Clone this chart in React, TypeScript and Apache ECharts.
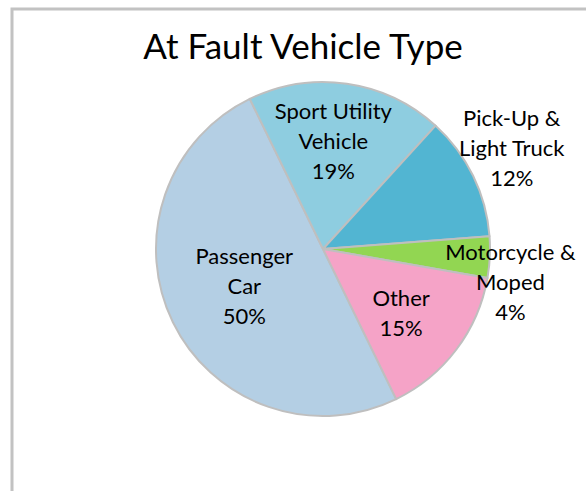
import React, { useEffect, useRef } from "react";
import * as echarts from "echarts";

const titleText = "At Fault Vehicle Type";
const categories = [
  "Passenger\nCar",
  "Sport Utility\nVehicle",
  "Pick-Up &\nLight Truck",
  "Motorcycle &\nMoped",
  "Other",
];
const values = [50, 19, 12, 4, 15];
const colors = ["#B4CFE4", "#8ECDE0", "#52B5D2", "#92D652", "#F5A3C7"];
const labelOffsets: [number, number][] = [
  [-1, -1],
  [-2, -23],
  [111, -64],
  [101, 28],
  [9, 11],
];

export default function App() {
  const ref = useRef<HTMLDivElement>(null);
  useEffect(() => {
    if (!ref.current) return;
    const chart = echarts.init(ref.current, undefined, { renderer: "svg" });
    const font = "Lato, 'Open Sans', sans-serif";
    chart.setOption({
      animation: false,
      backgroundColor: "#ffffff",
      title: {
        text: titleText,
        left: 298,
        top: 22,
        textAlign: "center",
        textStyle: {
          fontFamily: font,
          fontSize: 35,
          fontWeight: "normal",
          color: "#000000",
        },
      },
      graphic: [
        {
          type: "rect",
          shape: { x: 12, y: 9, width: 640, height: 540 },
          style: { fill: "none", stroke: "#C2C2C2", lineWidth: 3 },
          silent: true,
        },
      ],
      series: [
        {
          type: "pie",
          center: [323, 249],
          radius: 167,
          startAngle: 296,
          clockwise: true,
          avoidLabelOverlap: false,
          itemStyle: { borderColor: "#BFBFBF", borderWidth: 2 },
          label: {
            show: true,
            position: "inside",
            fontFamily: font,
            fontSize: 22,
            lineHeight: 30,
            color: "#000000",
            align: "center",
            formatter: (p: any) => `${p.name}\n${p.value}%`,
          },
          labelLine: { show: false },
          emphasis: { disabled: true },
          data: categories.map((name, i) => ({
            name,
            value: values[i],
            itemStyle: { color: colors[i] },
            label: { offset: labelOffsets[i] },
          })),
        },
      ],
    });
    return () => chart.dispose();
  }, []);
  return (
    <div
      ref={ref}
      style={{ position: "fixed", left: 0, top: 0, width: 586, height: 491 }}
    />
  );
}
